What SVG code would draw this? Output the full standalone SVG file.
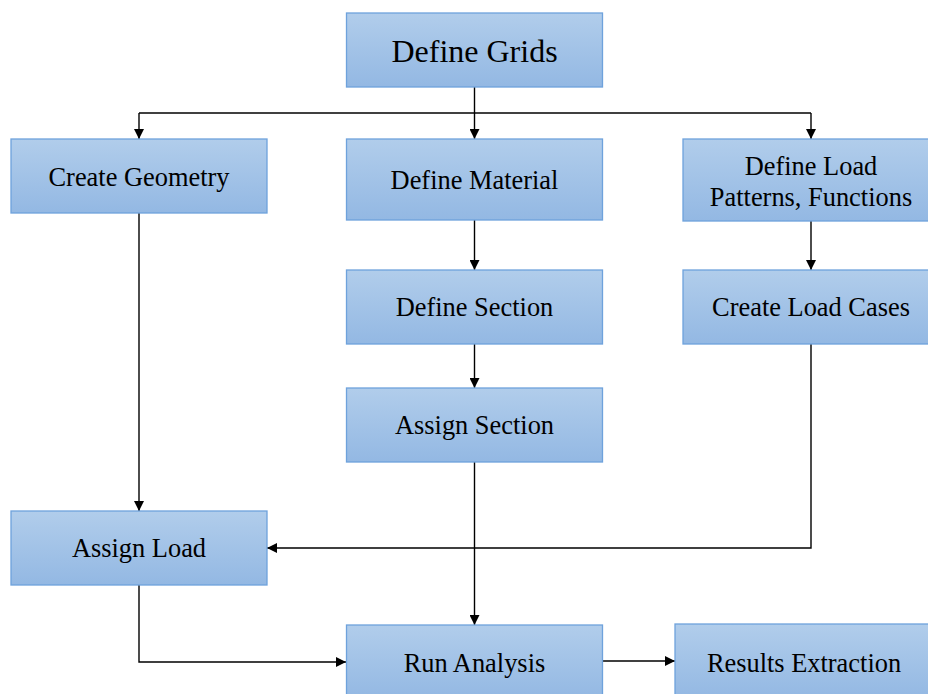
<svg xmlns="http://www.w3.org/2000/svg" width="928" height="694" viewBox="0 0 928 694">
<defs>
<linearGradient id="g" x1="0" y1="0" x2="0" y2="1">
<stop offset="0" stop-color="#b1cdeb"/>
<stop offset="1" stop-color="#93b8e3"/>
</linearGradient>
<marker id="a" markerWidth="10" markerHeight="10" refX="10" refY="5" orient="auto" markerUnits="userSpaceOnUse">
<path d="M0,0 L10,5 L0,10 z" fill="#000"/>
</marker>
<style>
.b{fill:url(#g);stroke:#6ea2dc;stroke-width:1.3}
.t{font-family:'Liberation Serif','Times New Roman',serif;font-size:26.4px;fill:#000;text-anchor:middle}
.c{fill:none;stroke:#000;stroke-width:1.4}
</style>
</defs>
<rect width="928" height="694" fill="#fff"/>
<g id="connectors">
<path class="c" d="M474.5,87 V113"/>
<path class="c" d="M139,113 H811"/>
<path class="c" d="M139,113 V139" marker-end="url(#a)"/>
<path class="c" d="M474.5,113 V139" marker-end="url(#a)"/>
<path class="c" d="M811,113 V139" marker-end="url(#a)"/>
<path class="c" d="M139,213 V511" marker-end="url(#a)"/>
<path class="c" d="M474.5,220 V270" marker-end="url(#a)"/>
<path class="c" d="M474.5,344 V388" marker-end="url(#a)"/>
<path class="c" d="M474.5,462 V625" marker-end="url(#a)"/>
<path class="c" d="M811,221 V270" marker-end="url(#a)"/>
<path class="c" d="M811,344 V548 H267" marker-end="url(#a)"/>
<path class="c" d="M139,585 V662 H346" marker-end="url(#a)"/>
<path class="c" d="M603,661 H675" marker-end="url(#a)"/>
</g>
<g id="define-grids"><rect class="b" x="346.5" y="13" width="256" height="74"/><text class="t" x="474.5" y="62" style="font-size:32px">Define Grids</text></g>
<g id="create-geometry"><rect class="b" x="11" y="139" width="256" height="74"/><text class="t" x="139" y="186">Create Geometry</text></g>
<g id="define-material"><rect class="b" x="346.5" y="139" width="256" height="81"/><text class="t" x="474.5" y="189">Define Material</text></g>
<g id="define-load"><rect class="b" x="683" y="139" width="257" height="82"/><text class="t" x="811" y="175">Define Load</text><text class="t" x="811" y="206">Patterns, Functions</text></g>
<g id="define-section"><rect class="b" x="346.5" y="270" width="256" height="74"/><text class="t" x="474.5" y="316">Define Section</text></g>
<g id="create-load-cases"><rect class="b" x="683" y="270" width="257" height="74"/><text class="t" x="811" y="316">Create Load Cases</text></g>
<g id="assign-section"><rect class="b" x="346.5" y="388" width="256" height="74"/><text class="t" x="474.5" y="434">Assign Section</text></g>
<g id="assign-load"><rect class="b" x="11" y="511" width="256" height="74"/><text class="t" x="139" y="557">Assign Load</text></g>
<g id="run-analysis"><rect class="b" x="346.5" y="625" width="256" height="74"/><text class="t" x="474.5" y="672">Run Analysis</text></g>
<g id="results-extraction"><rect class="b" x="675" y="624" width="257" height="75"/><text class="t" x="804" y="672">Results Extraction</text></g>
</svg>
